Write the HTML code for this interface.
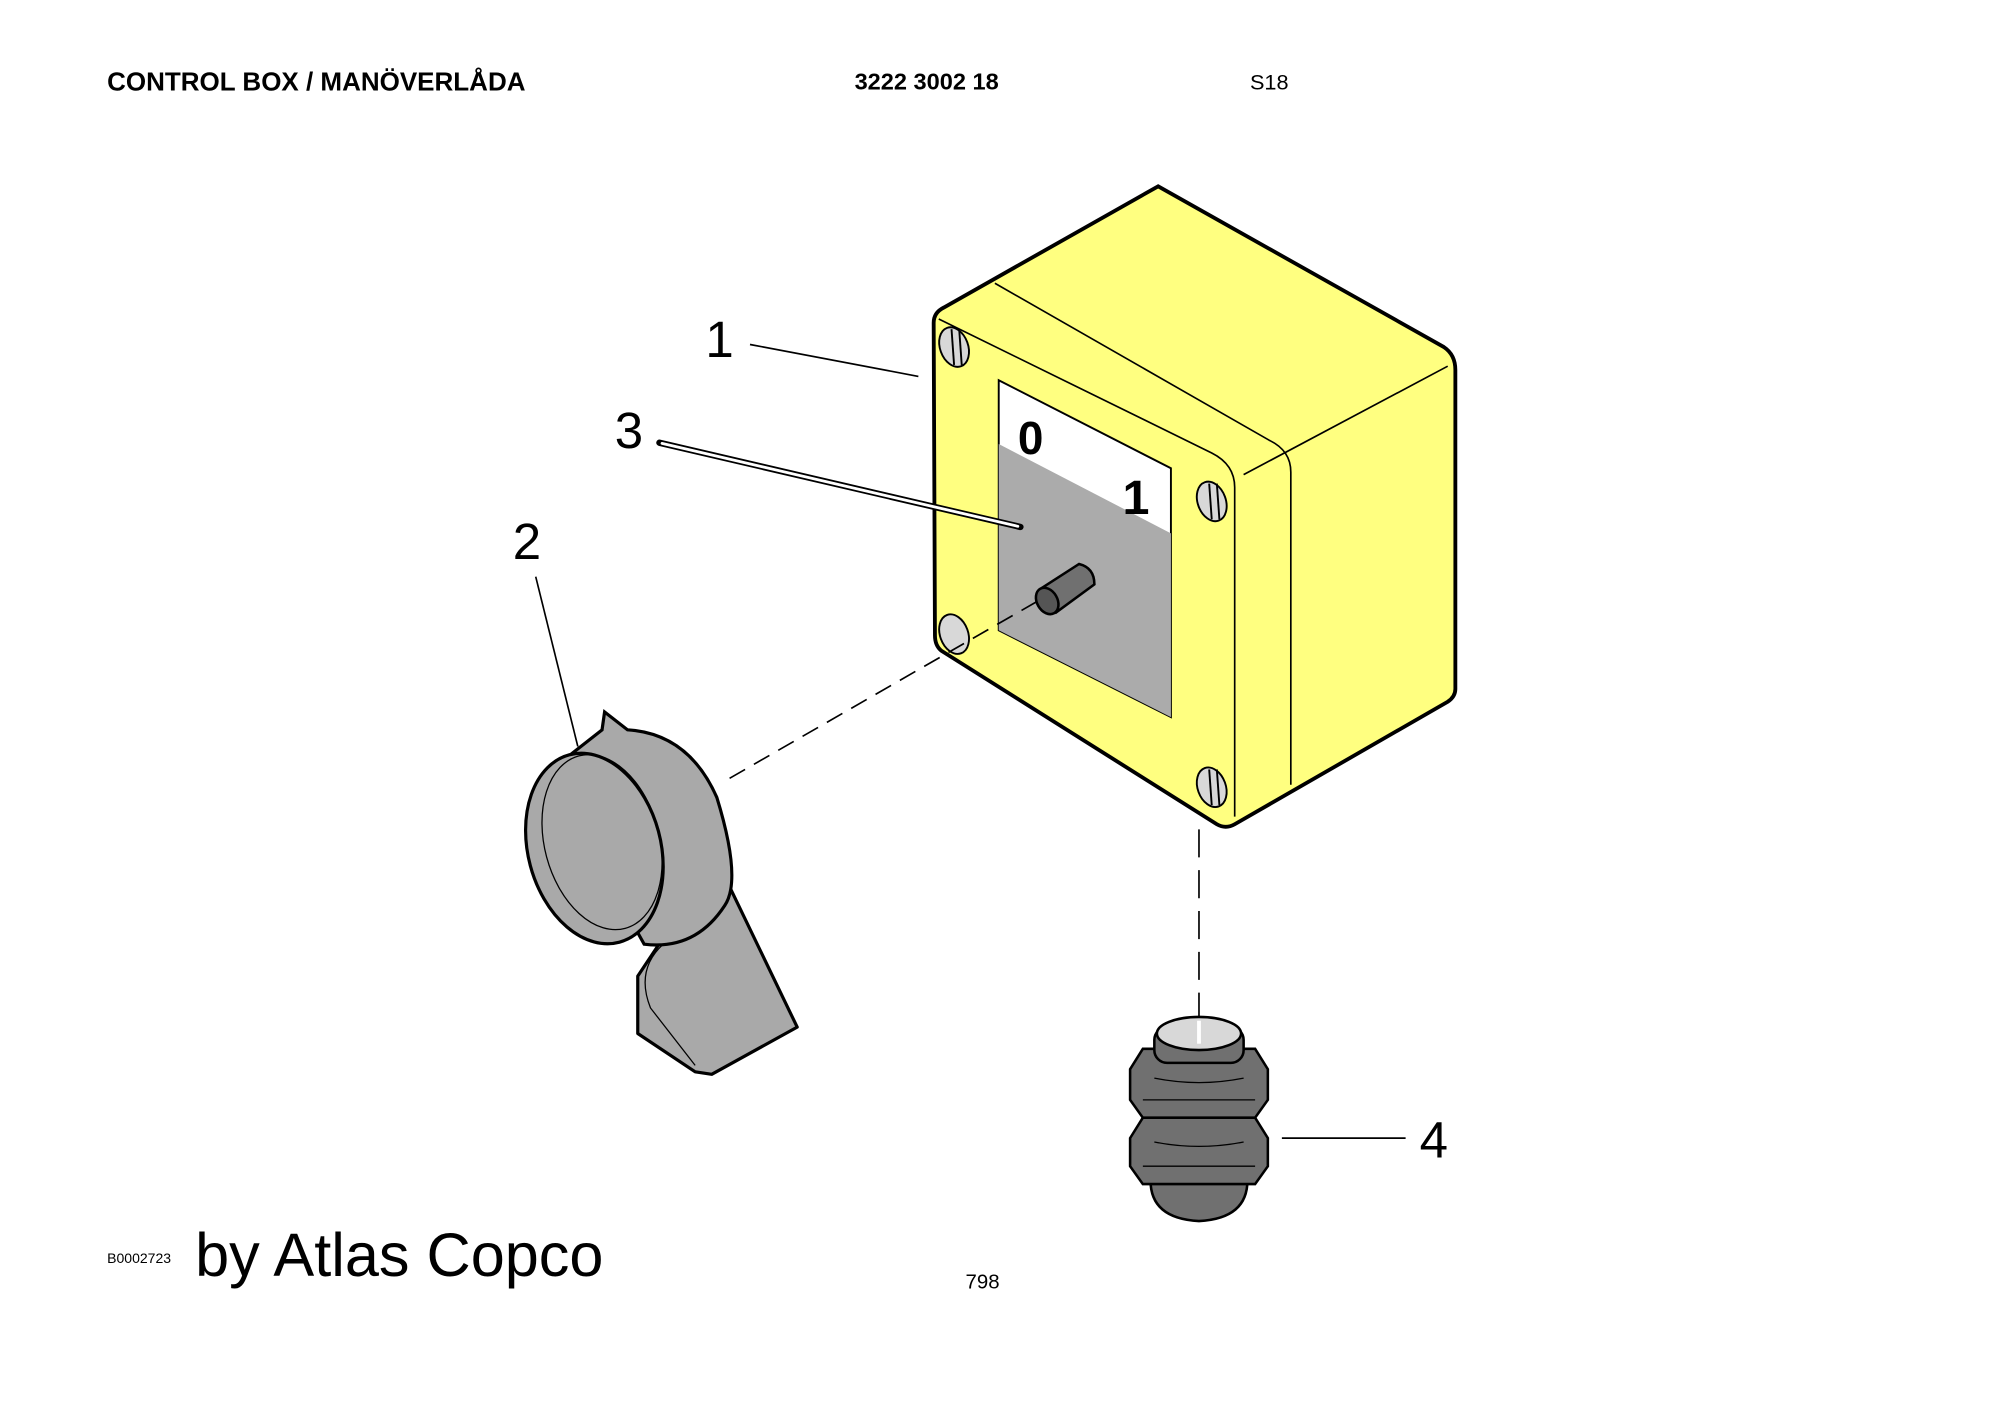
<!DOCTYPE html>
<html><head><meta charset="utf-8"><style>
html,body{margin:0;padding:0;background:#fff;}
svg{display:block}
</style></head><body>
<svg width="2000" height="1415" viewBox="0 0 1568 1109" preserveAspectRatio="none" xmlns="http://www.w3.org/2000/svg">
<rect width="1568" height="1109" fill="#fff"/>
<g font-family="Liberation Sans, sans-serif" fill="#000">
<text x="84" y="71" font-size="20" font-weight="bold" textLength="328" lengthAdjust="spacingAndGlyphs">CONTROL BOX / MANÖVERLÅDA</text>
<text x="670" y="70" font-size="18" font-weight="bold" textLength="113" lengthAdjust="spacingAndGlyphs">3222 3002 18</text>
<text x="980" y="70" font-size="17">S18</text>
<text x="84" y="990" font-size="11">B0002723</text>
<text x="153" y="1000" font-size="48">by Atlas Copco</text>
<text x="757" y="1010" font-size="16">798</text>
<text x="553" y="280" font-size="40">1</text>
<text x="482" y="351" font-size="40">3</text>
<text x="402" y="438" font-size="40">2</text>
<text x="1113" y="907" font-size="40">4</text>
</g>
<g stroke="#000" fill="none" stroke-width="1.3">
<line x1="588" y1="270" x2="720" y2="295"/>
<line x1="420" y1="452" x2="453" y2="585"/>
<line x1="1005" y1="892" x2="1102" y2="892"/>
</g>
<!-- box -->
<path d="M908,146 L1132,272 Q1141,278 1141,290 L1141,540 Q1141,546 1135,550 L968,646 Q961,650 954,646 L738,510 Q733,506 733,498 L732,253 Q732,245 740,241 Z" fill="#ffff80" stroke="#000" stroke-width="3"/>
<path d="M780,222 L995,345 Q1012,353 1012,370 L1012,615" fill="none" stroke="#000" stroke-width="1.3"/>
<path d="M736,250 L950,355 Q968,364 968,382 L968,640" fill="none" stroke="#000" stroke-width="1.3"/>
<line x1="975" y1="372" x2="1135" y2="287" stroke="#000" stroke-width="1.3"/>
<!-- window -->
<polygon points="783,298 918,367 918,562 783,494" fill="#fff" stroke="#000" stroke-width="1.5"/>
<polygon points="783,348 918,418 918,562 783,494" fill="#ababab"/>
<text x="798" y="356" font-family="Liberation Sans, sans-serif" font-weight="bold" font-size="36">0</text>
<text x="880" y="403" font-family="Liberation Sans, sans-serif" font-weight="bold" font-size="38">1</text>
<!-- screws -->
<g fill="#d8d8d8" stroke="#000" stroke-width="1.5">
<ellipse cx="748" cy="272" rx="11" ry="16" transform="rotate(-20 748 272)"/>
<ellipse cx="950" cy="393" rx="11" ry="16" transform="rotate(-20 950 393)"/>
<ellipse cx="748" cy="497" rx="11" ry="16" transform="rotate(-20 748 497)"/>
<ellipse cx="950" cy="617" rx="11" ry="16" transform="rotate(-20 950 617)"/>
</g>
<g stroke="#000" stroke-width="1.5">
<line x1="746" y1="258" x2="748" y2="286"/><line x1="752" y1="258" x2="754" y2="286"/>
<line x1="948" y1="379" x2="950" y2="407"/><line x1="954" y1="379" x2="956" y2="407"/>
<line x1="948" y1="603" x2="950" y2="631"/><line x1="954" y1="603" x2="956" y2="631"/>
</g>
<!-- shaft -->
<path d="M815,462 L846,442 Q858,445 858,458 L828,480 Z" fill="#707070" stroke="#000" stroke-width="2"/>
<ellipse cx="821" cy="471" rx="8" ry="11" transform="rotate(-30 821 471)" fill="#555" stroke="#000" stroke-width="2"/>
<!-- leader 3 double -->
<line x1="517" y1="347" x2="800" y2="413" stroke="#000" stroke-width="5" stroke-linecap="round"/>
<line x1="519" y1="347.5" x2="798" y2="412.5" stroke="#fff" stroke-width="2.2" stroke-linecap="round"/>
<!-- dashed -->
<line x1="572" y1="610" x2="812" y2="472" stroke="#000" stroke-width="1.3" stroke-dasharray="14,8"/>
<line x1="940" y1="650" x2="940" y2="822" stroke="#000" stroke-width="1.3" stroke-dasharray="22,10"/>
<!-- knob -->
<path d="M530,720 L500,765 L500,810 L545,840 L558,842 L625,805 L572,695 Z" fill="#a9a9a9" stroke="#000" stroke-width="2.5" stroke-linejoin="round"/>
<path d="M520,740 Q498,760 510,790 L545,835" fill="none" stroke="#000" stroke-width="1"/>
<path d="M430,605 L472,572 L474,558 L492,572 Q540,575 562,625 Q582,690 568,710 Q545,745 505,740 Z" fill="#a9a9a9" stroke="#000" stroke-width="2.5"/>
<ellipse cx="466" cy="665" rx="52" ry="76" transform="rotate(-15 466 665)" fill="#a9a9a9" stroke="#000" stroke-width="2.5"/>
<ellipse cx="472" cy="660" rx="45" ry="70" transform="rotate(-15 472 660)" fill="none" stroke="#000" stroke-width="1"/>
<!-- fitting 4 -->
<g stroke="#000" stroke-width="2" fill="#707070">
<path d="M902,925 Q902,955 940,957 Q978,955 978,925 L978,915 L902,915 Z"/>
<polygon points="886,892 896,876 984,876 994,892 994,914 984,928 896,928 886,914"/>
<polygon points="886,838 896,822 984,822 994,838 994,862 984,876 896,876 886,862"/>
<rect x="905" y="805" width="70" height="28" rx="10"/>
<ellipse cx="940" cy="810" rx="33" ry="13" fill="#d8d8d8"/>
</g>
<g stroke="#000" stroke-width="1" fill="none">
<line x1="896" y1="862" x2="984" y2="862"/><line x1="896" y1="914" x2="984" y2="914"/>
<path d="M905,845 Q940,852 975,845"/><path d="M905,895 Q940,902 975,895"/>
</g>
<line x1="940" y1="800" x2="940" y2="818" stroke="#fff" stroke-width="3"/>
</svg>
</body></html>
